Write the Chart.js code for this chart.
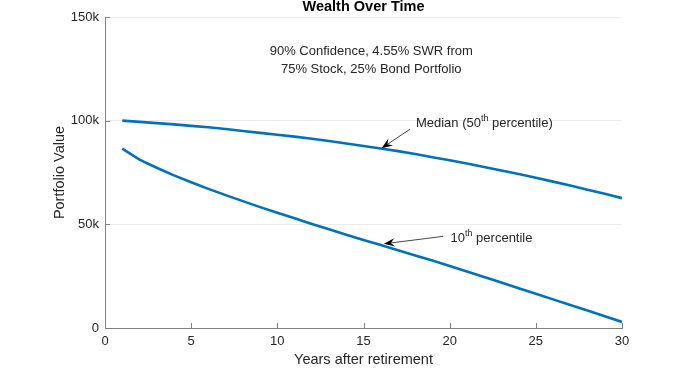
<!DOCTYPE html>
<html>
<head>
<meta charset="utf-8">
<script src="https://cdn.jsdelivr.net/npm/chart.js@4/dist/chart.umd.min.js"></script>
<style>
  html, body { margin: 0; padding: 0; background: #ffffff; }
  #wrap { width: 675px; height: 368px; position: relative; }
</style>
</head>
<body>
<div id="wrap"><canvas id="c" width="675" height="368"></canvas></div>
<script>
// ---- data ----
const years = [1,2,3,4,5,6,7,8,9,10,11,12,13,14,15,16,17,18,19,20,21,22,23,24,25,26,27,28,29,30];
const median = [100000,99400,98800,98200,97500,96800,96000,95000,94100,93200,92300,91300,90200,89000,87800,86600,85300,83900,82400,80900,79300,77700,76000,74300,72500,70600,68700,66700,64700,62600];
const p10 = [86500,81200,77300,73600,70300,67100,64100,61200,58300,55600,52900,50200,47600,45000,42500,40000,37500,35000,32500,29900,27300,24600,21900,19200,16500,13800,11100,8400,5700,2900];
const xTicks = [0,5,10,15,20,25,30];
const yTicks = [0,50000,100000,150000];
const yTickLabels = ['0','50k','100k','150k'];
const chartTitle = 'Wealth Over Time';
const subtitleLines = ['90% Confidence, 4.55% SWR from', '75% Stock, 25% Bond Portfolio'];

const FONT = '"Liberation Sans", Arial, Helvetica, sans-serif';
const TXT = '#262626';
const AX = '#808080';
const BLUE = '#0072BD';

const toPts = (xs, ys) => xs.map((x, i) => ({x: x, y: ys[i]}));

function drawSupText(ctx, x, y, parts, size) {
  ctx.textBaseline = 'middle';
  ctx.textAlign = 'left';
  let cx = x;
  ctx.font = size + 'px ' + FONT;
  ctx.fillText(parts[0], cx, y); cx += ctx.measureText(parts[0]).width;
  ctx.font = Math.round(size * 0.72) + 'px ' + FONT;
  ctx.fillText(parts[1], cx, y - size * 0.38); cx += ctx.measureText(parts[1]).width;
  ctx.font = size + 'px ' + FONT;
  ctx.fillText(parts[2], cx, y);
}

function drawArrow(ctx, x1, y1, x2, y2) {
  const ang = Math.atan2(y2 - y1, x2 - x1);
  const L = 11, W = 4.2, back = 7;
  ctx.strokeStyle = '#333';
  ctx.lineWidth = 0.9;
  ctx.beginPath();
  ctx.moveTo(x1, y1);
  ctx.lineTo(x2 - Math.cos(ang) * back, y2 - Math.sin(ang) * back);
  ctx.stroke();
  ctx.fillStyle = '#000';
  const bx = x2 - Math.cos(ang) * L, by = y2 - Math.sin(ang) * L;
  const nx = -Math.sin(ang), ny = Math.cos(ang);
  const mx = x2 - Math.cos(ang) * back, my = y2 - Math.sin(ang) * back;
  ctx.beginPath();
  ctx.moveTo(x2, y2);
  ctx.lineTo(bx + nx * W, by + ny * W);
  ctx.lineTo(mx, my);
  ctx.lineTo(bx - nx * W, by - ny * W);
  ctx.closePath();
  ctx.fill();
}

const decorPlugin = {
  id: 'decor',
  afterDatasetsDraw(chart) {
    const {ctx, scales: {x, y}, chartArea: a} = chart;
    ctx.save();
    // inward ticks
    ctx.strokeStyle = AX;
    ctx.lineWidth = 1;
    xTicks.forEach(v => {
      const px = Math.round(x.getPixelForValue(v)) + 0.5;
      ctx.beginPath(); ctx.moveTo(px, a.bottom); ctx.lineTo(px, a.bottom - 5); ctx.stroke();
    });
    yTicks.forEach(v => {
      const py = Math.round(y.getPixelForValue(v)) + 0.5;
      ctx.beginPath(); ctx.moveTo(a.left, py); ctx.lineTo(a.left + 5, py); ctx.stroke();
    });
    // title
    ctx.fillStyle = '#000';
    ctx.font = 'bold 14.5px ' + FONT;
    ctx.textAlign = 'center';
    ctx.textBaseline = 'middle';
    ctx.fillText(chartTitle, (a.left + a.right) / 2, 7);
    // subtitle annotation
    ctx.fillStyle = TXT;
    ctx.font = '13px ' + FONT;
    ctx.fillText(subtitleLines[0], x.getPixelForValue(15.45), y.getPixelForValue(133300));
    ctx.fillText(subtitleLines[1], x.getPixelForValue(15.45), y.getPixelForValue(124900));
    // labels
    ctx.fillStyle = TXT;
    drawSupText(ctx, x.getPixelForValue(18.04), y.getPixelForValue(98600), ['Median (50', 'th', ' percentile)'], 13);
    drawSupText(ctx, x.getPixelForValue(20.05), y.getPixelForValue(43100), ['10', 'th', ' percentile'], 13);
    // arrows
    drawArrow(ctx, x.getPixelForValue(17.69), y.getPixelForValue(95850), x.getPixelForValue(16.05), y.getPixelForValue(86700));
    drawArrow(ctx, x.getPixelForValue(19.62), y.getPixelForValue(44200), x.getPixelForValue(16.18), y.getPixelForValue(40600));
    ctx.restore();
  }
};

new Chart(document.getElementById('c'), {
  type: 'line',
  data: {
    datasets: [
      { label: 'Median', data: toPts(years, median), borderColor: BLUE, borderWidth: 2.6, pointRadius: 0, tension: 0, fill: false },
      { label: '10th percentile', data: toPts(years, p10), borderColor: BLUE, borderWidth: 2.6, pointRadius: 0, tension: 0, fill: false }
    ]
  },
  options: {
    responsive: false,
    animation: false,
    devicePixelRatio: 1,
    layout: { padding: { left: 0, right: 53, top: 17, bottom: 0 } },
    plugins: { legend: { display: false }, tooltip: { enabled: false }, title: { display: false } },
    scales: {
      x: {
        type: 'linear', min: 0, max: 30,
        afterBuildTicks: s => { s.ticks = xTicks.map(v => ({value: v})); },
        afterFit: s => { s.height = 40; },
        grid: { display: true, color: 'rgba(0,0,0,0)', drawTicks: false },
        border: { display: true, color: AX, width: 1 },
        ticks: { color: TXT, font: { family: FONT, size: 13 }, padding: 6, maxRotation: 0 },
        title: { display: true, text: 'Years after retirement', color: TXT, font: { family: FONT, size: 14.5 }, padding: { top: 0, bottom: -1 } }
      },
      y: {
        type: 'linear', min: 0, max: 150000,
        afterBuildTicks: s => { s.ticks = yTicks.map(v => ({value: v})); },
        afterFit: s => { s.width = 105; },
        grid: { color: '#ebebeb', lineWidth: 1, drawTicks: false },
        border: { display: true, color: AX, width: 1 },
        ticks: { color: TXT, font: { family: FONT, size: 13 }, padding: 6,
                 callback: (v) => { const i = yTicks.indexOf(v); return i >= 0 ? yTickLabels[i] : ''; } },
        title: { display: true, text: 'Portfolio Value', color: TXT, font: { family: FONT, size: 14.5 }, padding: { top: 51, bottom: 0 } }
      }
    }
  },
  plugins: [decorPlugin]
});
</script>
</body>
</html>
